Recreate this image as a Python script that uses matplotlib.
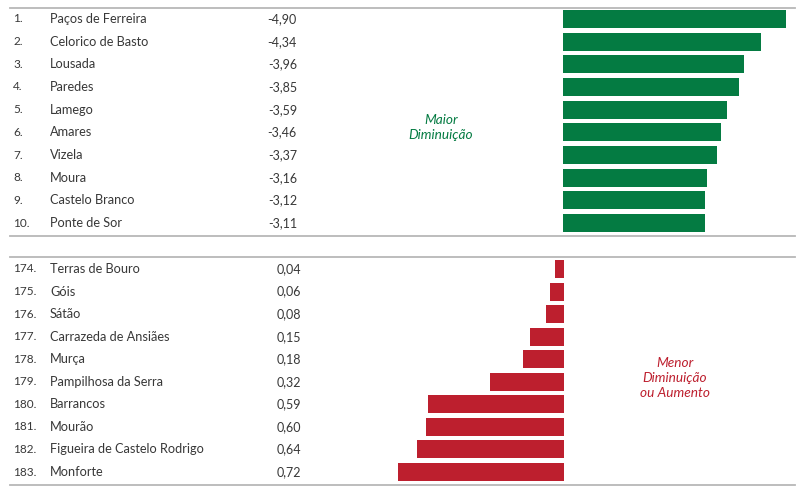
import matplotlib.pyplot as plt
from matplotlib.transforms import blended_transform_factory

plt.rcParams['font.family'] = ['Lato', 'DejaVu Sans']

# top ten: biggest decrease
top_rank = ["1.", "2.", "3.", "4.", "5.", "6.", "7.", "8.", "9.", "10."]
top_names = ["Paços de Ferreira", "Celorico de Basto", "Lousada", "Paredes", "Lamego",
             "Amares", "Vizela", "Moura", "Castelo Branco", "Ponte de Sor"]
top_values = [-4.90, -4.34, -3.96, -3.85, -3.59, -3.46, -3.37, -3.16, -3.12, -3.11]

# bottom ten: smallest decrease or increase
bot_rank = ["174.", "175.", "176.", "177.", "178.", "179.", "180.", "181.", "182.", "183."]
bot_names = ["Terras de Bouro", "Góis", "Sátão", "Carrazeda de Ansiães", "Murça",
             "Pampilhosa da Serra", "Barrancos", "Mourão", "Figueira de Castelo Rodrigo",
             "Monforte"]
bot_values = [0.04, 0.06, 0.08, 0.15, 0.18, 0.32, 0.59, 0.60, 0.64, 0.72]

green = "#047B42"
red = "#BD1F2E"
txt = "#383838"
rule = "#b8b8b8"

W, H = 800, 491
fig = plt.figure(figsize=(W / 100, H / 100), dpi=100)


def make_axes(top_px, bot_px):
    left, right = 10, 795
    return fig.add_axes([left / W, 1 - bot_px / H, (right - left) / W, (bot_px - top_px) / H])


def fmt(v):
    return ("%.2f" % v).replace(".", ",")


def setup(ax):
    for s in ["left", "right"]:
        ax.spines[s].set_visible(False)
    for s in ["top", "bottom"]:
        ax.spines[s].set_color(rule)
        ax.spines[s].set_linewidth(1.3)
    ax.set_xticks([])
    ax.set_yticks([])


# ---- top panel
ax1 = make_axes(8, 236)
setup(ax1)
ax1.set_xlim(-(563 - 10) / 45.6, (795 - 563) / 45.6)
ax1.set_ylim(9 + 13 / 22.67, -11 / 22.67)
rows = list(range(len(top_values)))
ax1.barh(rows, [abs(v) for v in top_values], height=0.8, color=green)
tr1 = blended_transform_factory(fig.transFigure, ax1.transData)
for i in rows:
    ax1.text(13 / W, i, top_rank[i], transform=tr1, ha="left", va="center", color=txt, fontsize=8.5)
    ax1.text(50 / W, i, top_names[i], transform=tr1, ha="left", va="center", color=txt, fontsize=9.2)
    ax1.text(297 / W, i, fmt(top_values[i]), transform=tr1, ha="right", va="center", color=txt, fontsize=9)
ax1.text(441 / W, 1 - 128 / H, "Maior\nDiminuição", transform=fig.transFigure, ha="center",
         va="center", color=green, fontsize=9.8, style="italic", linespacing=1.3)

# ---- bottom panel
ax2 = make_axes(257, 485)
setup(ax2)
ax2.set_xlim(-(564 - 10) / 230, (795 - 564) / 230)
ax2.set_ylim(9 + 13 / 22.6, -12 / 22.6)
rows = list(range(len(bot_values)))
ax2.barh(rows, [-v for v in bot_values], height=0.8, color=red)
tr2 = blended_transform_factory(fig.transFigure, ax2.transData)
for i in rows:
    ax2.text(13 / W, i, bot_rank[i], transform=tr2, ha="left", va="center", color=txt, fontsize=8.5)
    ax2.text(50 / W, i, bot_names[i], transform=tr2, ha="left", va="center", color=txt, fontsize=9.2)
    ax2.text(301 / W, i, fmt(bot_values[i]), transform=tr2, ha="right", va="center", color=txt, fontsize=9)
ax2.text(675 / W, 1 - 378 / H, "Menor\nDiminuição\nou Aumento", transform=fig.transFigure,
         ha="center", va="center", color=red, fontsize=9.8, style="italic", linespacing=1.3)

fig.savefig("out.png", dpi=100, facecolor="white")
